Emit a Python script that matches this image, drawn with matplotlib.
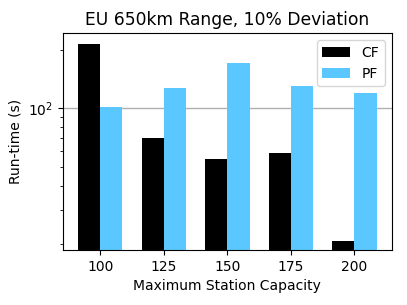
import matplotlib
matplotlib.use("Agg")
import matplotlib.pyplot as plt
import numpy as np

capacities = ["100", "125", "150", "175", "200"]
cf_runtime = [216, 70, 55, 59, 20.7]
pf_runtime = [102, 127, 172, 130, 120]

fig, ax = plt.subplots(figsize=(4.07, 3.05), dpi=100)
x = np.arange(len(capacities))
w = 0.35
ax.bar(x - w / 2, cf_runtime, w, color="black", label="CF")
ax.bar(x + w / 2, pf_runtime, w, color="#5AC8FF", label="PF")
ax.set_yscale("log")
ax.set_ylim(18.6, 244)
ax.set_xticks(x)
ax.set_xticklabels(capacities, fontsize=10)
ax.tick_params(axis="y", labelsize=10)
ax.yaxis.grid(True, which="major", color="#b0b0b0", lw=1)
ax.set_axisbelow(True)
ax.set_xlabel("Maximum Station Capacity", fontsize=10)
ax.set_ylabel("Run-time (s)", fontsize=10)
ax.set_title("EU 650km Range, 10% Deviation", fontsize=12.3)
ax.legend(fontsize=10, loc="upper right")
fig.subplots_adjust(left=0.155, right=0.962, top=0.891, bottom=0.18)
fig.savefig("out.png", dpi=100)
